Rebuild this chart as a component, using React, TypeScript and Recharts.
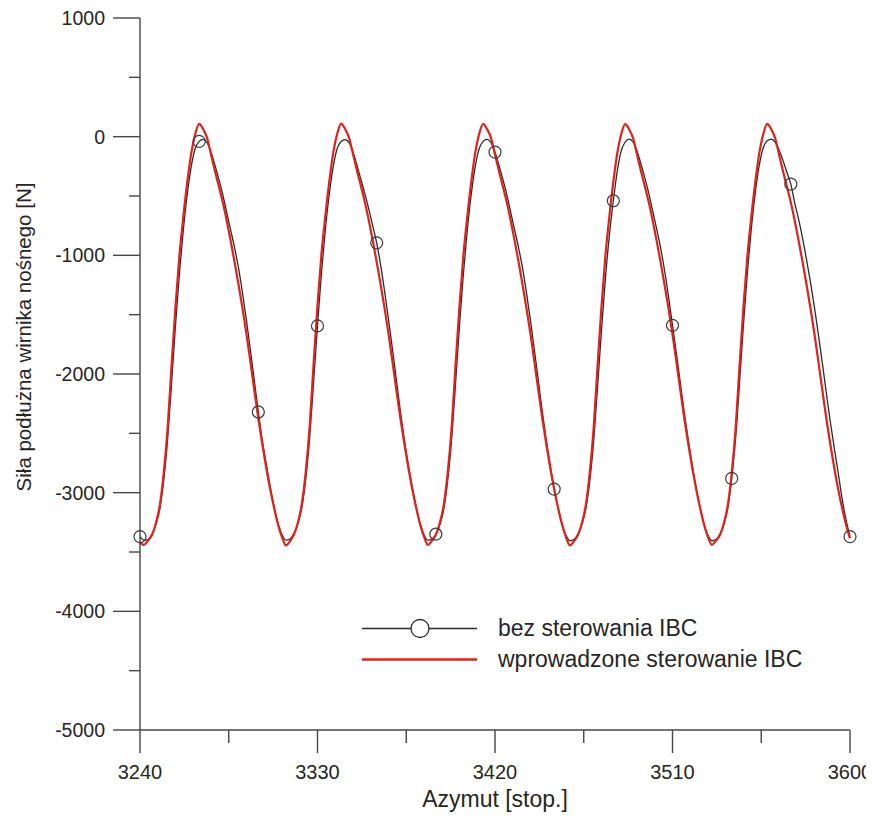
import { LineChart, Line, XAxis, YAxis, Legend } from "recharts";

// azimuth [deg], sampled every 2 deg
const azimuth = [
  3240, 3242, 3244, 3246, 3248, 3250, 3252, 3254, 3256, 3258, 3260, 3262, 3264, 3266, 3268, 3270, 3272, 3274,
  3276, 3278, 3280, 3282, 3284, 3286, 3288, 3290, 3292, 3294, 3296, 3298, 3300, 3302, 3304, 3306, 3308, 3310,
  3312, 3314, 3316, 3318, 3320, 3322, 3324, 3326, 3328, 3330, 3332, 3334, 3336, 3338, 3340, 3342, 3344, 3346,
  3348, 3350, 3352, 3354, 3356, 3358, 3360, 3362, 3364, 3366, 3368, 3370, 3372, 3374, 3376, 3378, 3380, 3382,
  3384, 3386, 3388, 3390, 3392, 3394, 3396, 3398, 3400, 3402, 3404, 3406, 3408, 3410, 3412, 3414, 3416, 3418,
  3420, 3422, 3424, 3426, 3428, 3430, 3432, 3434, 3436, 3438, 3440, 3442, 3444, 3446, 3448, 3450, 3452, 3454,
  3456, 3458, 3460, 3462, 3464, 3466, 3468, 3470, 3472, 3474, 3476, 3478, 3480, 3482, 3484, 3486, 3488, 3490,
  3492, 3494, 3496, 3498, 3500, 3502, 3504, 3506, 3508, 3510, 3512, 3514, 3516, 3518, 3520, 3522, 3524, 3526,
  3528, 3530, 3532, 3534, 3536, 3538, 3540, 3542, 3544, 3546, 3548, 3550, 3552, 3554, 3556, 3558, 3560, 3562,
  3564, 3566, 3568, 3570, 3572, 3574, 3576, 3578, 3580, 3582, 3584, 3586, 3588, 3590, 3592, 3594, 3596, 3598,
  3600,
];

// bez sterowania IBC [N]
const noIbc = [
  // 3240 - 3312
  -3370, -3400, -3395, -3350, -3270, -3140, -2900, -2550, -2080, -1590, -1150, -780, -480, -250, -100, -40, -22,
  -50, -130, -240, -360, -490, -640, -790, -940, -1110, -1320, -1550, -1800, -2060, -2320, -2560, -2760, -2950,
  -3120, -3260, -3355,
  // 3314 - 3384
  -3400, -3390, -3345, -3265, -3130, -2890, -2540, -2070, -1595, -1150, -780, -480, -250, -100, -40, -25, -50,
  -130, -240, -360, -480, -610, -750, -895, -1080, -1300, -1540, -1790, -2050, -2310, -2550, -2760, -2950, -3120,
  -3260, -3355,
  // 3386 - 3456
  -3400, -3390, -3350, -3270, -3140, -2900, -2550, -2080, -1590, -1150, -780, -480, -250, -100, -40, -22, -50,
  -130, -240, -360, -490, -640, -790, -940, -1110, -1320, -1550, -1800, -2060, -2320, -2560, -2770, -2970, -3130,
  -3265, -3360,
  // 3458 - 3528
  -3405, -3395, -3350, -3270, -3140, -2910, -2570, -2110, -1630, -1190, -830, -540, -290, -120, -45, -20, -45,
  -120, -230, -350, -480, -630, -780, -940, -1130, -1350, -1590, -1830, -2080, -2330, -2560, -2770, -2960, -3130,
  -3265, -3360,
  // 3530 - 3600
  -3405, -3395, -3350, -3270, -3135, -2880, -2540, -2070, -1580, -1140, -770, -470, -240, -95, -35, -20, -45,
  -110, -200, -300, -400, -560, -700, -860, -1040, -1230, -1440, -1670, -1910, -2160, -2400, -2620, -2830, -3050,
  -3230, -3370,
];

// wprowadzone sterowanie IBC [N]
const withIbc = [
  // 3240 - 3312
  -3415, -3440, -3405, -3360, -3260, -3110, -2840, -2460, -1930, -1430, -1000, -670, -380, -140, 20, 107, 65,
  -10, -150, -290, -420, -555, -710, -880, -1060, -1250, -1450, -1665, -1900, -2140, -2375, -2590, -2790, -2970,
  -3130, -3270, -3375,
  // 3314 - 3384
  -3445, -3410, -3355, -3255, -3100, -2830, -2450, -1920, -1420, -990, -665, -375, -135, 25, 110, 65, -10,
  -145, -285, -415, -550, -705, -875, -1055, -1245, -1445, -1660, -1895, -2135, -2370, -2585, -2785, -2965, -3125,
  -3265, -3370,
  // 3386 - 3456
  -3440, -3405, -3355, -3255, -3105, -2835, -2455, -1925, -1425, -995, -665, -375, -135, 25, 108, 62, -12,
  -150, -290, -420, -555, -710, -880, -1060, -1250, -1450, -1665, -1900, -2140, -2375, -2590, -2790, -2970, -3130,
  -3270, -3375,
  // 3458 - 3528
  -3445, -3410, -3360, -3260, -3110, -2840, -2460, -1930, -1430, -1000, -670, -380, -140, 20, 105, 62, -12,
  -150, -290, -420, -555, -710, -880, -1060, -1250, -1450, -1665, -1900, -2140, -2375, -2590, -2790, -2970, -3130,
  -3270, -3375,
  // 3530 - 3600
  -3440, -3405, -3360, -3260, -3110, -2840, -2460, -1930, -1430, -1000, -670, -380, -140, 20, 107, 65, -10,
  -150, -290, -420, -555, -710, -880, -1060, -1250, -1450, -1665, -1900, -2140, -2375, -2590, -2790, -2970, -3130,
  -3270, -3385,
];

const xTicks = [3240, 3285, 3330, 3375, 3420, 3465, 3510, 3555, 3600];
const xLabels = [3240, 3330, 3420, 3510, 3600];
const yTicks = [-5000, -4500, -4000, -3500, -3000, -2500, -2000, -1500, -1000, -500, 0, 500, 1000];
const yLabels = [-5000, -4000, -3000, -2000, -1000, 0, 1000];
const markerStep = 30;

const FONT = '"Liberation Sans", Arial, sans-serif';
const AXIS = "#464646";
const TEXT = "#262626";
const RED = "#e3201b";

const data = azimuth.map((az, i) => ({ az, noIbc: noIbc[i], withIbc: withIbc[i] }));

function YTick({ x, y, payload }: any) {
  const major = yLabels.includes(payload.value);
  return (
    <g>
      <line x1={x - (major ? 27 : 11)} x2={x} y1={y} y2={y} stroke={AXIS} strokeWidth={1.4} />
      {major ? (
        <text x={x - 35} y={y} textAnchor="end" dominantBaseline="central" fontSize={19.5} fontFamily={FONT} fill={TEXT}>
          {payload.value}
        </text>
      ) : null}
    </g>
  );
}

function XTick({ x, y, payload }: any) {
  const major = xLabels.includes(payload.value);
  return (
    <g>
      <line x1={x} x2={x} y1={y} y2={y + (major ? 23 : 13)} stroke={AXIS} strokeWidth={1.4} />
      {major ? (
        <text x={x} y={y + 42} textAnchor="middle" dominantBaseline="central" fontSize={20} fontFamily={FONT} fill={TEXT}>
          {payload.value}
        </text>
      ) : null}
    </g>
  );
}

function YTitle({ viewBox }: any) {
  const cx = viewBox.x + 15;
  const cy = viewBox.y + viewBox.height / 2 - 37;
  return (
    <text
      x={cx}
      y={cy}
      transform={`rotate(-90 ${cx} ${cy})`}
      textAnchor="middle"
      dominantBaseline="central"
      fontSize={20.5}
      fontFamily={FONT}
      fill={TEXT}
    >
      Siła podłużna wirnika nośnego [N]
    </text>
  );
}

function XTitle({ viewBox }: any) {
  return (
    <text
      x={viewBox.x + viewBox.width / 2}
      y={viewBox.y + 69}
      textAnchor="middle"
      dominantBaseline="central"
      fontSize={23}
      fontFamily={FONT}
      fill={TEXT}
    >
      Azymut [stop.]
    </text>
  );
}

function Marker(props: any) {
  const { cx, cy, payload, index } = props;
  if (payload.az % markerStep !== 0) return <g key={`m-${index}`} />;
  return <circle key={`m-${index}`} cx={cx} cy={cy} r={6} fill="none" stroke="#3a3a3a" strokeWidth={1.2} />;
}

function LegendBox() {
  const row = { display: "flex", alignItems: "center", height: 31 };
  const label = { fontSize: 23, fontFamily: FONT, color: TEXT, whiteSpace: "nowrap" as const };
  return (
    <div>
      <div style={row}>
        <svg width={140} height={31}>
          <line x1={4} x2={119} y1={15.5} y2={15.5} stroke="#2b2b2b" strokeWidth={1.3} />
          <circle cx={62} cy={15.5} r={9} fill="white" stroke="#2b2b2b" strokeWidth={1.3} />
        </svg>
        <span style={label}>bez sterowania IBC</span>
      </div>
      <div style={row}>
        <svg width={140} height={31}>
          <line x1={4} x2={119} y1={15.5} y2={15.5} stroke={RED} strokeWidth={2.6} />
        </svg>
        <span style={label}>wprowadzone sterowanie IBC</span>
      </div>
    </div>
  );
}

export default function App() {
  return (
    <LineChart width={866} height={808} data={data} margin={{ top: 10, right: 24, bottom: 0, left: 0 }}>
      <XAxis
        dataKey="az"
        type="number"
        domain={[3240, 3600]}
        ticks={xTicks}
        interval={0}
        tick={<XTick />}
        tickLine={false}
        tickSize={0}
        tickMargin={0}
        height={86}
        axisLine={{ stroke: AXIS, strokeWidth: 1.4 }}
        label={<XTitle />}
      />
      <YAxis
        type="number"
        domain={[-5000, 1000]}
        ticks={yTicks}
        interval={0}
        tick={<YTick />}
        tickLine={false}
        tickSize={0}
        tickMargin={0}
        width={132}
        axisLine={{ stroke: AXIS, strokeWidth: 1.4 }}
        label={<YTitle />}
      />
      <Legend
        layout="horizontal"
        verticalAlign="middle"
        content={<LegendBox />}
        wrapperStyle={{ left: 350, top: 605, width: 480, height: 64 }}
      />
      <Line type="monotone" dataKey="noIbc" stroke="#2b2b2b" strokeWidth={1.3} dot={false} isAnimationActive={false} />
      <Line type="monotone" dataKey="withIbc" stroke={RED} strokeWidth={2.2} dot={false} isAnimationActive={false} />
      <Line
        type="monotone"
        dataKey="noIbc"
        stroke="none"
        dot={Marker}
        activeDot={false}
        legendType="none"
        isAnimationActive={false}
      />
    </LineChart>
  );
}
